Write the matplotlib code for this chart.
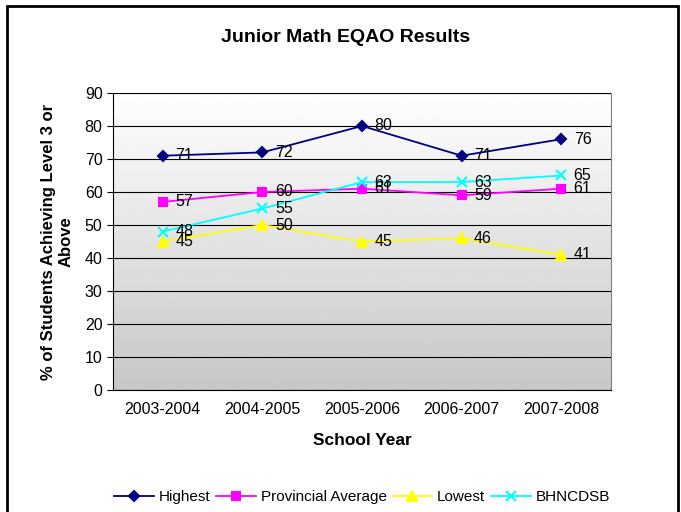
import numpy as np
import matplotlib.pyplot as plt
from matplotlib.patches import Rectangle

plt.rcParams['font.family'] = ['Liberation Sans', 'DejaVu Sans']

years = ["2003-2004", "2004-2005", "2005-2006", "2006-2007", "2007-2008"]
highest = [71, 72, 80, 71, 76]
provincial = [57, 60, 61, 59, 61]
lowest = [45, 50, 45, 46, 41]
bhncdsb = [48, 55, 63, 63, 65]

fig = plt.figure(figsize=(6.81, 5.12), dpi=100)
ax = fig.add_axes([113 / 681, 122 / 512, 498 / 681, 297 / 512])

# Gradient background: white at top, grey at bottom
grad = np.linspace(0.78, 1.0, 256).reshape(-1, 1)
ax.imshow(grad, cmap='gray', vmin=0, vmax=1, origin='lower', aspect='auto',
          extent=[0, 1, 0, 1], transform=ax.transAxes, zorder=0)

x = np.arange(len(years))
series = [
    ("Highest", highest, '#000080', 'D', 5.5),
    ("Provincial Average", provincial, '#FF00FF', 's', 6),
    ("Lowest", lowest, '#FFFF00', '^', 7),
    ("BHNCDSB", bhncdsb, '#00FFFF', 'x', 7),
]
for name, vals, col, mk, ms in series:
    ax.plot(x, vals, color=col, marker=mk, markersize=ms, linewidth=1.3,
            markeredgecolor=col, markeredgewidth=1.5, label=name, zorder=3)
    for xi, v in zip(x, vals):
        ax.annotate(str(v), (xi, v), xytext=(9, 0), textcoords='offset points',
                    va='center', ha='left', fontsize=11.5, zorder=4)

ax.set_xlim(-0.5, 4.5)
ax.set_ylim(0, 90)
ax.set_yticks(range(0, 91, 10))
ax.set_xticks(x)
ax.set_xticklabels(years, fontsize=11.5)
ax.tick_params(axis='y', labelsize=11.5, direction='out', length=4)
ax.tick_params(axis='x', length=0, pad=9)
ax.grid(axis='y', color='black', linewidth=0.8)
ax.set_axisbelow(False)
for s in ['top', 'right']:
    ax.spines[s].set_color('#808080')
ax.spines['left'].set_color('black')
ax.spines['bottom'].set_color('black')

ax.set_title("Junior Math EQAO Results", fontsize=14, fontweight='bold', pad=37, x=0.466)
ax.set_xlabel("School Year", fontsize=12.5, fontweight='bold', labelpad=11)
ax.set_ylabel("% of Students Achieving Level 3 or\nAbove", fontsize=12,
              fontweight='bold', labelpad=8)

ax.legend(loc='upper center', bbox_to_anchor=(0.5, -0.29), ncol=4, frameon=False,
          fontsize=11, handlelength=2.6, columnspacing=0.4, handletextpad=0.3)

fig.patches.append(Rectangle((7 / 681, -0.01), 671 / 681, 1 - 6 / 512 + 0.01,
                             transform=fig.transFigure, fill=False,
                             edgecolor='black', linewidth=2))

fig.savefig("out.png", dpi=100)
